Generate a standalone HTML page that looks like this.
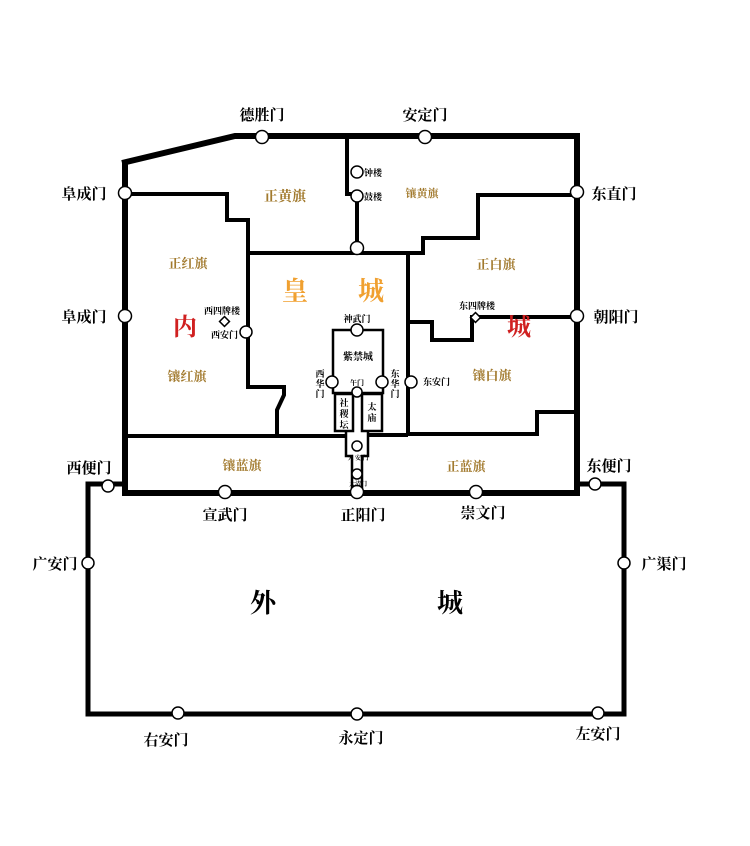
<!DOCTYPE html>
<html><head><meta charset="utf-8"><style>
html,body{margin:0;padding:0;background:#fff;width:750px;height:846px;overflow:hidden}
svg text{font-family:"Liberation Serif","Noto Serif CJK SC","Noto Sans CJK SC",serif;font-weight:bold}
</style></head><body>
<svg width="750" height="846" viewBox="0 0 750 846" xmlns="http://www.w3.org/2000/svg">
<g fill="none" stroke="#000" stroke-linejoin="miter">
<polyline points="125,484 88,484 88,714 624,714 624,484 577,484" stroke-width="5"/>
<polyline points="122,163 235,136 577,136 577,493 125,493 125,163" stroke-width="6"/>
<g stroke-width="4">
<polyline points="125,194 227,194 227,220 248,220 248,387 284,387 284,395 277,410 277,436"/>
<polyline points="248,253 408,253 408,436"/>
<polyline points="347,136 347,194 357,194 357,253"/>
<polyline points="357,253 423,253 423,238 478,238 478,195 577,195"/>
<polyline points="408,322 432,322 432,340 472,340 472,317 577,317"/>
<polyline points="408,434 537,434 537,412 577,412"/>
<line x1="125" y1="436" x2="346" y2="436"/>
<line x1="368" y1="435" x2="408" y2="435"/>
</g>
<g stroke-width="2.5">
<rect x="333" y="330" width="50" height="63"/>
<rect x="335" y="394" width="18" height="37"/>
<rect x="362" y="394" width="20" height="37"/>
<polyline points="346,431 346,456 352,456 352,493"/>
<polyline points="368,431 368,456 362,456 362,493"/>
</g>
</g>
<g fill="#fff" stroke="#000" stroke-width="1.5">
<circle cx="262" cy="137" r="6.5"/><circle cx="425" cy="137" r="6.5"/>
<circle cx="125" cy="193" r="6.5"/><circle cx="577" cy="192" r="6.5"/>
<circle cx="125" cy="316" r="6.5"/><circle cx="577" cy="316" r="6.5"/>
<circle cx="225" cy="492" r="6.5"/><circle cx="357" cy="492" r="6.5"/><circle cx="476" cy="492" r="6.5"/>
<circle cx="357" cy="172" r="6"/><circle cx="357" cy="196" r="6"/><circle cx="357" cy="248" r="6.5"/>
<circle cx="246" cy="332" r="6"/><circle cx="411" cy="382" r="6"/>
<circle cx="357" cy="330" r="6"/><circle cx="332" cy="382" r="6"/><circle cx="382" cy="382" r="6"/>
<circle cx="357" cy="392" r="5"/><circle cx="357" cy="446" r="5"/><circle cx="357" cy="474" r="5"/>
<circle cx="108" cy="486" r="6"/><circle cx="595" cy="484" r="6"/>
<circle cx="88" cy="563" r="6"/><circle cx="624" cy="563" r="6"/>
<circle cx="178" cy="713" r="6"/><circle cx="357" cy="714" r="6"/><circle cx="598" cy="713" r="6"/>
<rect x="221" y="318" width="7" height="7" transform="rotate(45 224.5 321.5)"/>
<rect x="472" y="314" width="7" height="7" transform="rotate(45 475.5 317.5)"/>
</g>
<g fill="#000" font-size="15">
<text x="262" y="120" text-anchor="middle">德胜门</text>
<text x="425" y="120" text-anchor="middle">安定门</text>
<text x="84" y="199" text-anchor="middle">阜成门</text>
<text x="614" y="199" text-anchor="middle">东直门</text>
<text x="84" y="322" text-anchor="middle">阜成门</text>
<text x="616" y="322" text-anchor="middle">朝阳门</text>
<text x="89" y="473" text-anchor="middle">西便门</text>
<text x="609" y="471" text-anchor="middle">东便门</text>
<text x="225" y="520" text-anchor="middle">宣武门</text>
<text x="363" y="520" text-anchor="middle">正阳门</text>
<text x="483" y="518" text-anchor="middle">崇文门</text>
<text x="55" y="569" text-anchor="middle">广安门</text>
<text x="664" y="569" text-anchor="middle">广渠门</text>
<text x="166" y="745" text-anchor="middle">右安门</text>
<text x="361" y="743" text-anchor="middle">永定门</text>
<text x="598" y="739" text-anchor="middle">左安门</text>
</g>
<g fill="#000" font-size="9">
<text x="364" y="176">钟楼</text><text x="364" y="200">鼓楼</text>
<text x="204" y="314">西四牌楼</text><text x="211" y="338">西安门</text>
<text x="459" y="309">东四牌楼</text><text x="423" y="385">东安门</text>
<text x="357" y="322" text-anchor="middle">神武门</text>
<text x="358" y="360" text-anchor="middle" font-size="10">紫禁城</text>
<text x="320" y="377" text-anchor="middle">西</text><text x="320" y="387" text-anchor="middle">华</text><text x="320" y="397" text-anchor="middle">门</text>
<text x="395" y="377" text-anchor="middle">东</text><text x="395" y="387" text-anchor="middle">华</text><text x="395" y="397" text-anchor="middle">门</text>
<text x="357" y="385" text-anchor="middle" font-size="7">午门</text>
<text x="344" y="406" text-anchor="middle">社</text><text x="344" y="417" text-anchor="middle">稷</text><text x="344" y="428" text-anchor="middle">坛</text>
<text x="372" y="410" text-anchor="middle">太</text><text x="372" y="421" text-anchor="middle">庙</text>
<text x="358" y="460" text-anchor="middle" font-size="6">天 安 门</text>
<text x="358" y="486" text-anchor="middle" font-size="6">大清门</text>
</g>
<g fill="#a27a2e" font-size="13">
<text x="285" y="201" text-anchor="middle" font-size="14">正黄旗</text>
<text x="422" y="197" text-anchor="middle" font-size="11">镶黄旗</text>
<text x="188" y="268" text-anchor="middle">正红旗</text>
<text x="496" y="269" text-anchor="middle">正白旗</text>
<text x="187" y="381" text-anchor="middle">镶红旗</text>
<text x="492" y="380" text-anchor="middle">镶白旗</text>
<text x="242" y="470" text-anchor="middle">镶蓝旗</text>
<text x="466" y="471" text-anchor="middle">正蓝旗</text>
</g>
<text x="295" y="300" text-anchor="middle" font-size="26" fill="#f0a030">皇</text>
<text x="371" y="300" text-anchor="middle" font-size="26" fill="#f0a030">城</text>
<text x="185" y="335" text-anchor="middle" font-size="24" fill="#d02020">内</text>
<text x="519" y="335" text-anchor="middle" font-size="24" fill="#d02020">城</text>
<text x="263" y="612" text-anchor="middle" font-size="26" fill="#000">外</text>
<text x="450" y="612" text-anchor="middle" font-size="26" fill="#000">城</text>
</svg>
</body></html>
